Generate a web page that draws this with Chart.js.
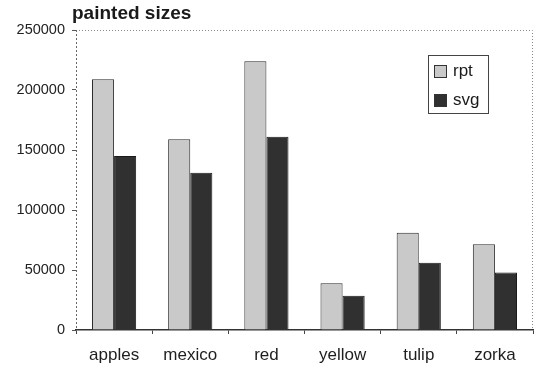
<!DOCTYPE html>
<html>
<head>
<meta charset="utf-8">
<script src="https://cdn.jsdelivr.net/npm/chart.js@4/dist/chart.umd.min.js"></script>
<style>
  html, body { margin: 0; padding: 0; background: #fff; }
  #wrap { width: 536px; height: 375px; }
</style>
</head>
<body>
<div id="wrap"><canvas id="c" width="536" height="375"></canvas></div>
<script>
const categories = ['apples', 'mexico', 'red', 'yellow', 'tulip', 'zorka'];
const rptValues = [209000, 159000, 224000, 39000, 81000, 71500];
const svgValues = [145000, 131000, 161000, 28500, 56000, 48000];
const yTicks = [0, 50000, 100000, 150000, 200000, 250000];
const chartTitle = 'painted sizes';

const FONT = '"Liberation Sans", Arial, sans-serif';

// Title, dotted frame on top/right, and a boxed legend inside the plot
const decor = {
  id: 'decor',
  afterDraw(chart) {
    const { ctx, chartArea: a } = chart;
    ctx.save();
    // dotted top and right frame
    ctx.strokeStyle = '#8a8a8a';
    ctx.lineWidth = 1;
    ctx.setLineDash([1, 2]);
    ctx.beginPath();
    ctx.moveTo(a.left, a.top + 0.5);
    ctx.lineTo(a.right - 0.5, a.top + 0.5);
    ctx.lineTo(a.right - 0.5, a.bottom);
    ctx.stroke();
    // dashed left axis
    ctx.strokeStyle = '#6a6a6a';
    ctx.setLineDash([2, 2]);
    ctx.beginPath();
    ctx.moveTo(a.left + 0.5, a.top);
    ctx.lineTo(a.left + 0.5, a.bottom);
    ctx.stroke();
    ctx.setLineDash([]);

    // title
    ctx.fillStyle = '#1a1a1a';
    ctx.font = 'bold 19px ' + FONT;
    ctx.textAlign = 'left';
    ctx.textBaseline = 'alphabetic';
    ctx.fillText(chartTitle, a.left - 4, a.top - 11);

    // legend box
    const bx = 428, by = 55, bw = 60, bh = 58;
    ctx.fillStyle = '#fff';
    ctx.fillRect(bx, by, bw, bh);
    ctx.strokeStyle = '#444';
    ctx.lineWidth = 1;
    ctx.strokeRect(bx + 0.5, by + 0.5, bw, bh);
    ctx.font = '17px ' + FONT;
    ctx.textBaseline = 'middle';
    chart.data.datasets.forEach((ds, i) => {
      const y = by + 16 + i * 29;
      ctx.fillStyle = ds.backgroundColor;
      ctx.fillRect(bx + 6, y - 6, 13, 13);
      ctx.strokeStyle = '#333';
      ctx.strokeRect(bx + 6.5, y - 5.5, 12, 12);
      ctx.fillStyle = '#1a1a1a';
      ctx.fillText(ds.label, bx + 25, y);
    });
    ctx.restore();
  }
};

new Chart(document.getElementById('c'), {
  type: 'bar',
  data: {
    labels: categories,
    datasets: [
      { label: 'rpt', data: rptValues, backgroundColor: '#c9c9c9', borderColor: '#2a2a2a', borderWidth: 1 },
      { label: 'svg', data: svgValues, backgroundColor: '#303030', borderColor: '#1a1a1a', borderWidth: 1 }
    ]
  },
  options: {
    responsive: false,
    animation: false,
    layout: { padding: { top: 30, right: 3, left: 0, bottom: 0 } },
    plugins: { legend: { display: false }, tooltip: { enabled: false }, title: { display: false } },
    datasets: { bar: { categoryPercentage: 0.58, barPercentage: 1.0 } },
    scales: {
      x: {
        offset: true,
        grid: { display: true, offset: true, drawOnChartArea: false, drawTicks: true, tickLength: 4, color: '#444' },
        border: { display: true, color: '#333', width: 1.5 },
        ticks: { color: '#1e1e1e', font: { family: FONT, size: 17 }, padding: 11 },
        afterFit(scale) { scale.height = 45; }
      },
      y: {
        min: 0, max: 250000,
        afterBuildTicks(scale) { scale.ticks = yTicks.map(v => ({ value: v })); },
        grid: { display: true, drawOnChartArea: false, drawTicks: true, tickLength: 4, color: '#555' },
        border: { display: false },
        ticks: { color: '#222', font: { family: FONT, size: 14.5 }, padding: 7, callback: v => String(v) },
        afterFit(scale) { scale.width = 76; }
      }
    }
  },
  plugins: [decor]
});
</script>
</body>
</html>
